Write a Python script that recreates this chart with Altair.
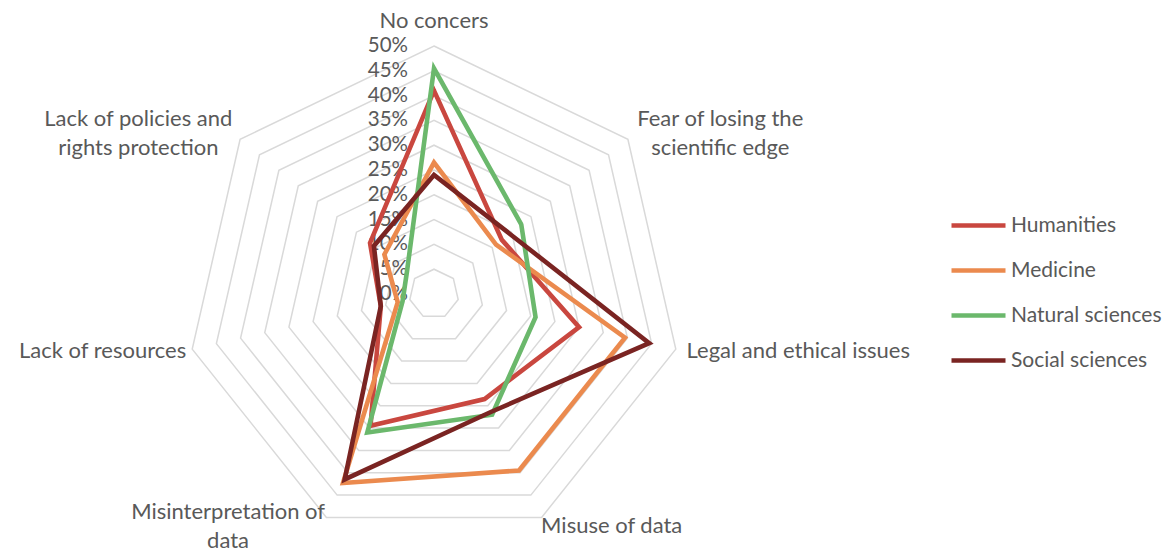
import altair as alt
import pandas as pd

# ---------------- data ----------------
categories = [
    "No concers",
    "Fear of losing the scientific edge",
    "Legal and ethical issues",
    "Misuse of data",
    "Misinterpretation of data",
    "Lack of resources",
    "Lack of policies and rights protection",
]
category_lines = [
    ["No concers"],
    ["Fear of losing the", "scientific edge"],
    ["Legal and ethical issues"],
    ["Misuse of data"],
    ["Misinterpretation of", "data"],
    ["Lack of resources"],
    ["Lack of policies and", "rights protection"],
]
series_names = ["Humanities", "Medicine", "Natural sciences", "Social sciences"]
humanities = [41.0, 17.5, 30.0, 23.5, 29.5, 11.0, 16.5]
medicine = [26.5, 16.0, 39.5, 39.5, 42.3, 7.5, 12.8]
natural_sciences = [45.5, 22.5, 21.0, 27.0, 31.0, 6.5, 7.0]
social_sciences = [24.0, 19.5, 44.5, 26.4, 41.5, 11.0, 15.5]
series_colors = ["#C9473F", "#EB8A4E", "#6BB86C", "#7A2422"]
tick_values = [0, 5, 10, 15, 20, 25, 30, 35, 40, 45, 50]
tick_labels = ["0%", "5%", "10%", "15%", "20%", "25%", "30%", "35%", "40%", "45%", "50%"]

# ---------------- layout / style ----------------
FONT = "Lato"
TXT = "#595959"
PAD_TOP = 10
W, H = 1157, 532
K = 4.96                      # pixels per percentage point
CX, CY = 426, 286 - PAD_TOP   # centre of the radar in plot coordinates
N = len(categories)
LINE_H = 29

xs = alt.Scale(domain=[-CX / K, (W - CX) / K], nice=False, zero=False)
ys = alt.Scale(domain=[-(H - CY) / K, CY / K], nice=False, zero=False)

# ---------------- tables ----------------
rows = []
for name, vals in zip(series_names,
                      [humanities, medicine, natural_sciences, social_sciences]):
    for step in range(N + 2):
        i = step % N
        rows.append({"series": name, "step": step, "idx": i,
                     "category": categories[i], "value": vals[i]})
series_df = pd.DataFrame(rows)

grid_rows = []
for lv in tick_values[1:]:
    for step in range(N + 2):
        grid_rows.append({"level": lv, "step": step, "idx": step % N})
grid_df = pd.DataFrame(grid_rows)

tick_df = pd.DataFrame({"level": tick_values, "label": tick_labels})

label_df = pd.DataFrame({
    "idx": list(range(N)),
    "lines": category_lines,
    "hw": [max(len(s) for s in ls) * 9.4 / 2 / K for ls in category_lines],
    "lift": [(len(ls) - 1) * LINE_H / 2 / K for ls in category_lines],
})

ANG = "datum.idx * 2 * PI / %d" % N

grid = alt.Chart(grid_df).transform_calculate(
    x="datum.level * sin(%s)" % ANG,
    y="datum.level * cos(%s)" % ANG,
).mark_line(color="#D9D9D9", strokeWidth=1.5).encode(
    x=alt.X("x:Q", scale=xs, axis=None),
    y=alt.Y("y:Q", scale=ys, axis=None),
    detail="level:N",
    order="step:Q",
)

ticks = alt.Chart(tick_df).transform_calculate(
    x="0"
).mark_text(align="right", baseline="middle", dx=-26, fontSize=20.5,
            font=FONT, color=TXT).encode(
    x=alt.X("x:Q", scale=xs, axis=None),
    y=alt.Y("level:Q", scale=ys, axis=None),
    text="label:N",
)

labels = alt.Chart(label_df).transform_calculate(
    s="sin(%s)" % ANG,
    c="cos(%s)" % ANG,
).transform_calculate(
    r="datum.c > 0.95 ? 55.1 : 52",
).transform_calculate(
    x="datum.r * datum.s + (datum.s > 0.05 ? datum.hw : (datum.s < -0.05 ? -datum.hw : 0))",
    y="datum.r * datum.c + datum.lift",
).mark_text(align="center", baseline="middle", fontSize=22, lineHeight=LINE_H,
            font=FONT, color=TXT).encode(
    x=alt.X("x:Q", scale=xs, axis=None),
    y=alt.Y("y:Q", scale=ys, axis=None),
    text="lines",
)

lines = alt.Chart(series_df).transform_calculate(
    x="datum.value * sin(%s)" % ANG,
    y="datum.value * cos(%s)" % ANG,
).mark_line(strokeWidth=4.6, strokeJoin="miter").encode(
    x=alt.X("x:Q", scale=xs, axis=None),
    y=alt.Y("y:Q", scale=ys, axis=None),
    color=alt.Color(
        "series:N",
        scale=alt.Scale(domain=series_names, range=series_colors),
        legend=alt.Legend(
            title=None, orient="none", legendX=941, legendY=188 - PAD_TOP,
            symbolType="stroke", symbolSize=2916, symbolStrokeWidth=4.6,
            labelFontSize=21, labelFont=FONT, labelColor=TXT,
            labelOffset=3, rowPadding=5, padding=0, labelLimit=300,
        ),
    ),
    order="step:Q",
)

chart = alt.layer(grid, ticks, labels, lines).properties(
    width=W, height=H,
    padding={"top": PAD_TOP, "left": 0, "right": 0, "bottom": 0},
    autosize=alt.AutoSizeParams(type="none"),
    background="white",
).configure_view(stroke=None)

chart.save("out.html", embed_options={"renderer": "svg", "actions": False})
